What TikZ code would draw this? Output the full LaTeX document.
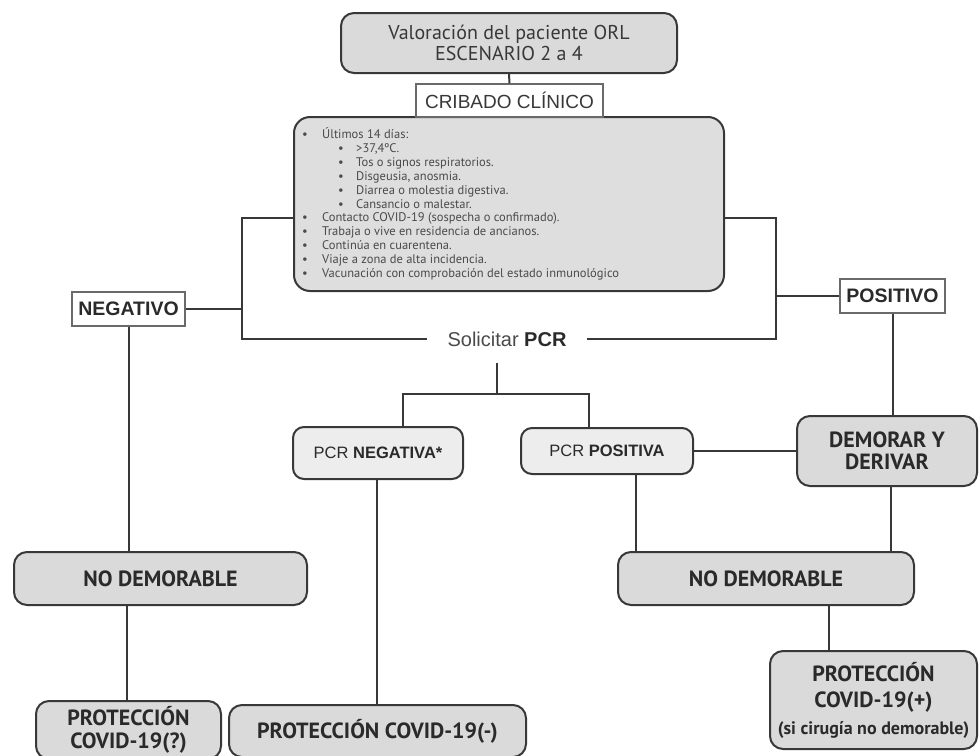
\documentclass[tikz,border=0pt]{standalone}
\usepackage{fontspec}
\setmainfont{PT Sans}
\newfontfamily\helv{Liberation Sans}
\definecolor{ln}{HTML}{383838}
\definecolor{boxg}{HTML}{DADADA}
\definecolor{pcrg}{HTML}{EDEDED}
\definecolor{listg}{HTML}{DEDEDE}
\definecolor{txt}{HTML}{2A2A2A}
\definecolor{ltxt}{HTML}{4A4A4A}
\definecolor{frame}{HTML}{6A6A6A}
\newcommand{\mainbul}{\makebox[20pt][l]{•}}
\newcommand{\subbul}{\hspace*{36pt}\makebox[18pt][l]{•}}
\begin{document}
\begin{tikzpicture}[x=1pt,y=-1pt,
  conn/.style={draw=ln, line width=2pt},
  gbox/.style={draw=ln, line width=2pt, fill=boxg, rounded corners=13pt, align=center, inner sep=0pt, text=txt, font=\bfseries\fontsize{22}{23}\selectfont},
  pbox/.style={draw=ln, line width=2pt, fill=pcrg, rounded corners=11pt, align=center, inner sep=0pt, text=txt, font=\helv\fontsize{16.5}{19}\selectfont},
  wbox/.style={draw=frame, line width=1.2pt, fill=white, inner sep=0pt, text=txt},
]
\useasboundingbox (0,0) rectangle (979,755);
\clip (0,0) rectangle (979,755);
% top
\node[gbox, font=\fontsize{20}{21}\selectfont, text=ln, minimum width=336pt, minimum height=60pt] (top) at (509,43) {Valoración del paciente ORL\\ESCENARIO 2 a 4};
% list box
\node[draw=ln, line width=2pt, fill=listg, rounded corners=16pt, minimum width=430pt, minimum height=174pt, inner sep=0pt] (list) at (509,204) {};
\node[anchor=north west, inner sep=0pt, align=left, text=ltxt, font=\fontsize{12.5}{13.9}\selectfont] (listtext) at (302,127.5) {%
\mainbul Últimos 14 días:\\
\subbul >37,4ºC.\\
\subbul Tos o signos respiratorios.\\
\subbul Disgeusia, anosmia.\\
\subbul Diarrea o molestia digestiva.\\
\subbul Cansancio o malestar.\\
\mainbul Contacto COVID-19 (sospecha o confirmado).\\
\mainbul Trabaja o vive en residencia de ancianos.\\
\mainbul Continúa en cuarentena.\\
\mainbul Viaje a zona de alta incidencia.\\
\mainbul Vacunación con comprobación del estado inmunológico};
% cribado
\node[wbox, font=\helv\fontsize{19}{21}\selectfont, text=ln, minimum width=187pt, minimum height=33pt] (crib) at (509.5,100.5) {CRIBADO CLÍNICO};
% negativo / positivo
\node[wbox, font=\helv\bfseries\fontsize{19.5}{21}\selectfont, minimum width=113pt, minimum height=34pt] (neg) at (128.5,309) {NEGATIVO};
\node[wbox, font=\helv\bfseries\fontsize{19.5}{21}\selectfont, minimum width=105pt, minimum height=34pt] (pos) at (892.5,296) {POSITIVO};
% solicitar
\node[inner xsep=20pt, inner ysep=2pt, font=\helv\fontsize{20}{22}\selectfont, text=ltxt] (sol) at (507,339) {Solicitar \textcolor{txt}{\bfseries PCR}};
\coordinate (solb) at (497,363);
% pcr boxes
\node[pbox, minimum width=170pt, minimum height=52pt] (pcrn) at (378,453) {PCR \textbf{NEGATIVA*}};
\node[pbox, minimum width=172pt, minimum height=46pt] (pcrp) at (607,451) {PCR \textbf{POSITIVA}};
\node[gbox, font=\bfseries\fontsize{22}{22}\selectfont, minimum width=180pt, minimum height=70pt] (dem) at (887,451) {DEMORAR Y\\DERIVAR};
% no demorable
\node[gbox, minimum width=293pt, minimum height=53pt] (ndl) at (160.5,578.5) {NO DEMORABLE};
\node[gbox, minimum width=296pt, minimum height=53pt] (ndr) at (766,578.5) {NO DEMORABLE};
% protection
\node[gbox, font=\bfseries\fontsize{22}{23}\selectfont, minimum width=185pt, minimum height=58pt] (pq) at (128.5,730) {PROTECCIÓN\\COVID-19(?)};
\node[gbox, minimum width=297pt, minimum height=52pt] (pm) at (377.5,731) {PROTECCIÓN COVID-19(-)};
\node[gbox, font=\bfseries\fontsize{22}{26.5}\selectfont, minimum width=207pt, minimum height=98pt] (pp) at (873.5,700) {PROTECCIÓN\\COVID-19(+)\\{\fontsize{18}{26.5}\selectfont (si cirugía no demorable)}};
% connectors
\draw[conn] (top.south) -- (crib.north);
\draw[conn] (list.west |- 0,218) -| (242,339) -- (sol.west);
\draw[conn] (neg.east) -- (neg.east -| 242,0);
\draw[conn] (list.east |- 0,218) -| (776,339) -- (sol.east);
\draw[conn] (pos.west) -- (pos.west -| 776,0);
\draw[conn] (solb) -- (497,394);
\draw[conn] (pcrn.north -| 403,0) -- (403,394) -- (589,394) -- (pcrp.north -| 589,0);
\draw[conn] (pcrp.east) -- (dem.west);
\draw[conn] (pos.south) -- (pos.south |- dem.north);
\draw[conn] (neg.south) -- (neg.south |- ndl.north);
\draw[conn] (ndl.south -| 127,0) -- (pq.north -| 127,0);
\draw[conn] (pcrn.south -| 377,0) -- (pm.north -| 377,0);
\draw[conn] (pcrp.south -| 636,0) -- (ndr.north -| 636,0);
\draw[conn] (dem.south -| 891,0) -- (ndr.north -| 891,0);
\draw[conn] (ndr.south -| 829,0) -- (pp.north -| 829,0);
\end{tikzpicture}
\end{document}
